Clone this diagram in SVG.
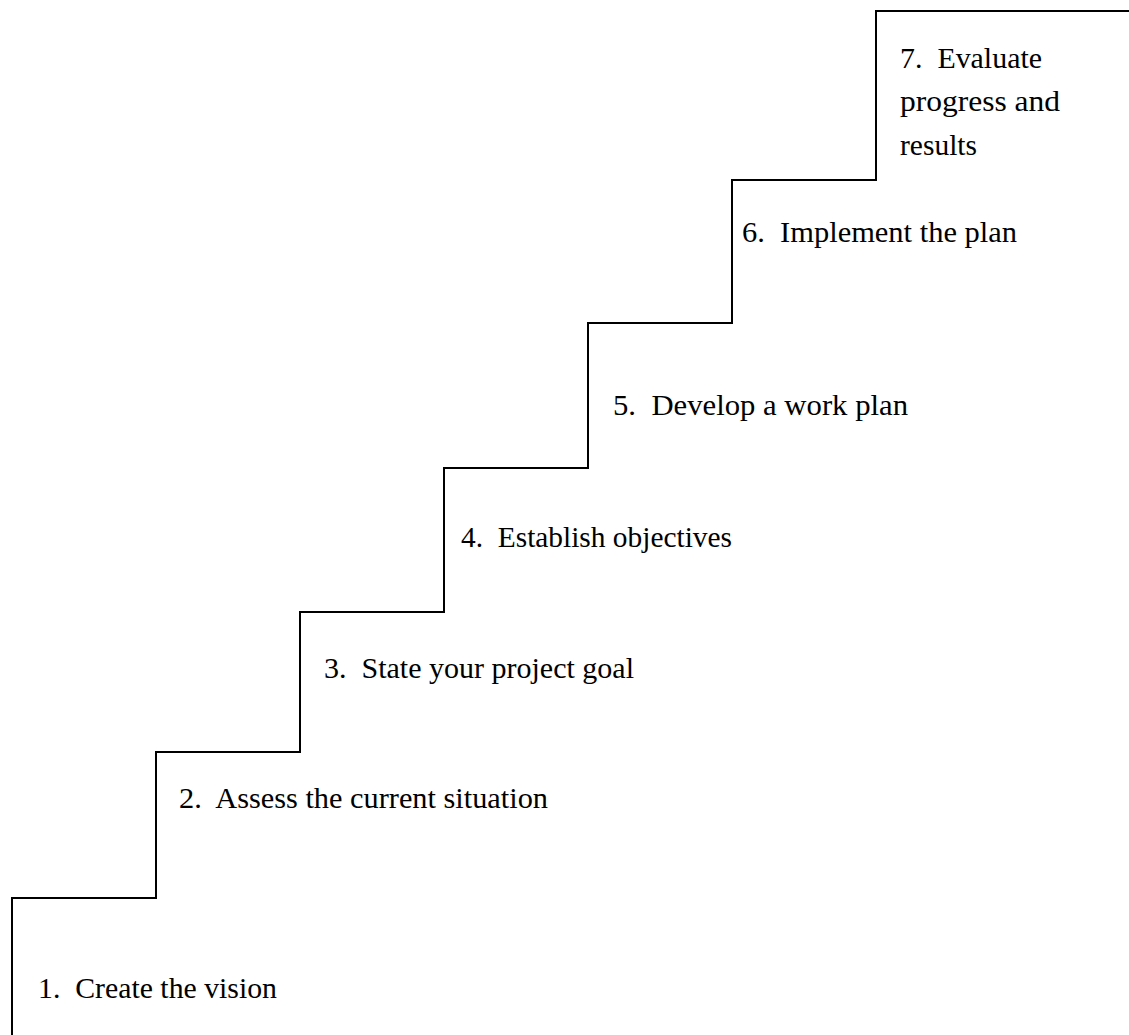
<svg xmlns="http://www.w3.org/2000/svg" width="1129" height="1035" viewBox="0 0 1129 1035">
<style>
.stair{fill:none;stroke:#000;stroke-width:2;stroke-linejoin:miter}
.lbl{font-family:"Liberation Serif","DejaVu Serif",serif;font-size:29px;fill:#000}
</style>
<rect width="1129" height="1035" fill="#fff"/>
<g id="connectors">
<path class="stair" d="M12,1035 V898 H156 V752 H300 V612 H444 V468 H588 V323 H732 V180 H876 V11 H1129"/>
</g>
<g id="step1"><text class="lbl" x="38" y="998" textLength="239" lengthAdjust="spacingAndGlyphs">1.&#160; Create the vision</text></g>
<g id="step2"><text class="lbl" x="179" y="808" textLength="369" lengthAdjust="spacingAndGlyphs">2.&#160; Assess the current situation</text></g>
<g id="step3"><text class="lbl" x="324" y="678" textLength="310" lengthAdjust="spacingAndGlyphs">3.&#160; State your project goal</text></g>
<g id="step4"><text class="lbl" x="461" y="547" textLength="271" lengthAdjust="spacingAndGlyphs">4.&#160; Establish objectives</text></g>
<g id="step5"><text class="lbl" x="613" y="415" textLength="295" lengthAdjust="spacingAndGlyphs">5.&#160; Develop a work plan</text></g>
<g id="step6"><text class="lbl" x="742" y="242" textLength="275" lengthAdjust="spacingAndGlyphs">6.&#160; Implement the plan</text></g>
<g id="step7">
<text class="lbl" x="900" y="68" textLength="142" lengthAdjust="spacingAndGlyphs">7.&#160; Evaluate</text>
<text class="lbl" x="900" y="111" textLength="160" lengthAdjust="spacingAndGlyphs">progress and</text>
<text class="lbl" x="900" y="155" textLength="77" lengthAdjust="spacingAndGlyphs">results</text>
</g>
</svg>
